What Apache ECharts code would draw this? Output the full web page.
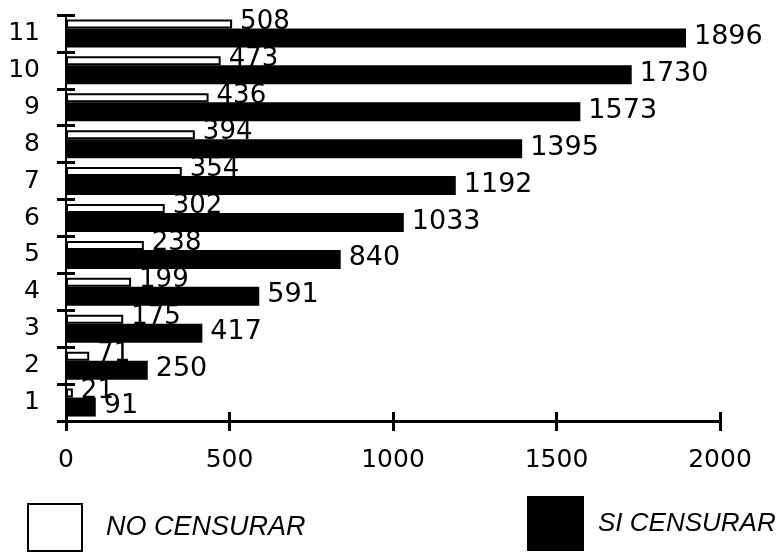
<!DOCTYPE html>
<html>
<head>
<meta charset="utf-8">
<script src="https://cdn.jsdelivr.net/npm/echarts@6/dist/echarts.min.js"></script>
<style>
html,body{margin:0;padding:0;background:#fff;}
#chart{width:779px;height:552px;}
</style>
</head>
<body>
<div id="chart"></div>
<script>
const categories = ['1','2','3','4','5','6','7','8','9','10','11'];
const noCensurar = [21, 71, 175, 199, 238, 302, 354, 394, 436, 473, 508];
const siCensurar = [91, 250, 417, 591, 840, 1033, 1192, 1395, 1573, 1730, 1896];
const seriesNames = ['NO CENSURAR', 'SI CENSURAR'];
const xMin = 0, xMax = 2000, xStep = 500;

const chart = echarts.init(document.getElementById('chart'), null, {renderer: 'canvas'});
const numFont = 'DejaVu Sans';
chart.setOption({
  backgroundColor: '#fff',
  animation: false,
  grid: {left: 66, right: 59, top: 15, bottom: 131, containLabel: false},
  xAxis: [{
    type: 'value', min: xMin, max: xMax, interval: xStep, position: 'bottom',
    axisLine: {show: true, lineStyle: {color: '#000', width: 3}},
    axisTick: {show: true, inside: false, length: 10, lineStyle: {color: '#000', width: 3}},
    axisLabel: {color: '#000', fontSize: 25, fontFamily: numFont, margin: 27,
      formatter: function (v) { return String(v); }},
    splitLine: {show: false}
  }, {
    type: 'value', min: xMin, max: xMax, interval: xStep, position: 'bottom', offset: 0,
    axisLine: {show: false},
    axisTick: {show: true, inside: true, length: 9, lineStyle: {color: '#000', width: 3}},
    axisLabel: {show: false},
    splitLine: {show: false}
  }],
  yAxis: [{
    type: 'category', data: categories, position: 'left',
    axisLine: {show: true, lineStyle: {color: '#000', width: 2}},
    axisTick: {show: true, inside: false, length: 9, alignWithLabel: false, lineStyle: {color: '#000', width: 3}},
    axisLabel: {color: '#000', fontSize: 25, fontFamily: numFont, margin: 26},
    splitLine: {show: false}
  }, {
    type: 'category', data: categories, position: 'left', offset: 0,
    axisLine: {show: false},
    axisTick: {show: true, inside: true, length: 9, alignWithLabel: false, lineStyle: {color: '#000', width: 3}},
    axisLabel: {show: false},
    splitLine: {show: false}
  }],
  legend: [{
    data: [seriesNames[0]], left: 27, top: 503, orient: 'horizontal', padding: 0,
    itemWidth: 54, itemHeight: 47, icon: 'rect', selectedMode: false,
    itemStyle: {color: '#fff', borderColor: '#000', borderWidth: 2},
    textStyle: {color: '#000', fontSize: 27, fontStyle: 'italic', fontFamily: 'Liberation Sans', padding: [0, 0, 6, 19]}
  }, {
    data: [seriesNames[1]], left: 527, top: 496, orient: 'horizontal', padding: 0,
    itemWidth: 57, itemHeight: 55, icon: 'rect', selectedMode: false,
    itemStyle: {color: '#000', borderWidth: 0},
    textStyle: {color: '#000', fontSize: 26, fontStyle: 'italic', fontFamily: 'Liberation Sans', padding: [0, 0, 0, 9]}
  }],
  series: [{
    name: seriesNames[0], type: 'bar', data: noCensurar,
    xAxisIndex: 0, yAxisIndex: 0,
    barWidth: 9, barGap: '0%',
    itemStyle: {color: '#fff', borderColor: '#000', borderWidth: 2},
    label: {show: true, position: 'right', distance: 8, offset: [0, -2], color: '#000', fontSize: 26, fontFamily: numFont}
  }, {
    name: seriesNames[1], type: 'bar', data: siCensurar,
    xAxisIndex: 0, yAxisIndex: 0,
    barWidth: 19,
    itemStyle: {color: '#000'},
    label: {show: true, position: 'right', distance: 8, offset: [0, -1], color: '#000', fontSize: 27, fontFamily: numFont}
  }]
});
</script>
</body>
</html>
